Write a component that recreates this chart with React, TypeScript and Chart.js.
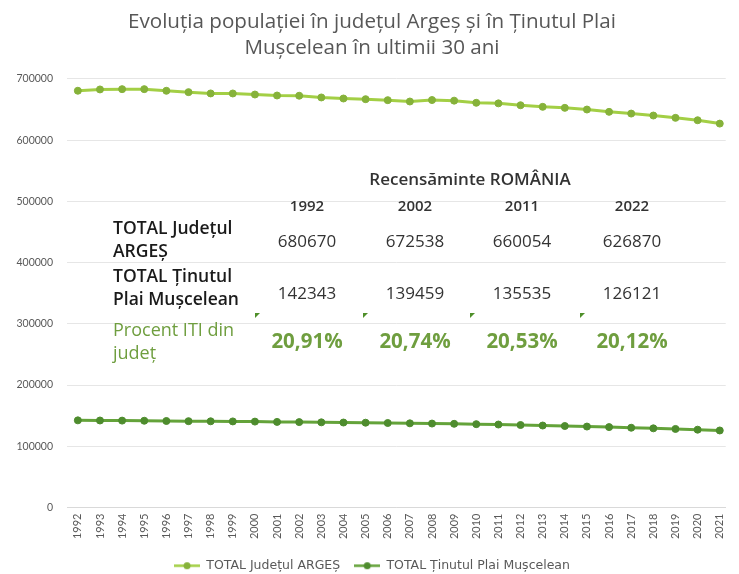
import React, { useEffect, useRef } from "react";
import { Chart, registerables } from "chart.js";

Chart.register(...registerables);

const years = [
  1992, 1993, 1994, 1995, 1996, 1997, 1998, 1999, 2000, 2001,
  2002, 2003, 2004, 2005, 2006, 2007, 2008, 2009, 2010, 2011,
  2012, 2013, 2014, 2015, 2016, 2017, 2018, 2019, 2020, 2021,
];

const argesValues = [
  680670, 682800, 683300, 683300, 680600, 678400, 676300, 676200, 674500, 672900,
  672538, 669700, 668000, 666900, 665300, 663100, 665500, 664500, 661000, 660054,
  657000, 654400, 652700, 650000, 646200, 643400, 640200, 636400, 632500, 627000,
];

const plaiValues = [
  142343, 142100, 141900, 141700, 141300, 141000, 140800, 140600, 140300, 139800,
  139459, 139100, 138800, 138500, 138000, 137500, 137100, 136700, 136100, 135535,
  134700, 133900, 133100, 132200, 131300, 130300, 129300, 128300, 127100, 125800,
];

const seriesNames = ["TOTAL Județul ARGEȘ", "TOTAL Ținutul Plai Mușcelean"];
const titleLines = [
  "Evoluția populației în județul Argeș și în Ținutul Plai",
  "Mușcelean în ultimii 30 ani",
];

const yMin = 0;
const yMax = 700000;
const yStep = 100000;

const tableHeading = "Recensăminte ROMÂNIA";
const censusYears = ["1992", "2002", "2011", "2022"];
const censusArges = ["680670", "672538", "660054", "626870"];
const censusPlai = ["142343", "139459", "135535", "126121"];
const censusPercent = ["20,91%", "20,74%", "20,53%", "20,12%"];
const rowLabels = [
  ["TOTAL Județul", "ARGEȘ"],
  ["TOTAL Ținutul", "Plai Mușcelean"],
  ["Procent ITI din", "județ"],
];

const ARGES_LINE = "#a3cf45";
const ARGES_POINT = "#86b23a";
const PLAI_LINE = "#64a33a";
const PLAI_POINT = "#4e8c2e";
const GREEN_TEXT = "#6f9e3f";

function legendImage(line: string, point: string): HTMLCanvasElement {
  const c = document.createElement("canvas");
  c.width = 26;
  c.height = 9;
  const ctx = c.getContext("2d")!;
  ctx.strokeStyle = line;
  ctx.lineWidth = 2.5;
  ctx.beginPath();
  ctx.moveTo(0, 4.5);
  ctx.lineTo(26, 4.5);
  ctx.stroke();
  ctx.fillStyle = point;
  ctx.beginPath();
  ctx.arc(13, 4.5, 3.5, 0, Math.PI * 2);
  ctx.fill();
  return c;
}

const colCenters = [307, 415, 522, 632];
const FONT = "'Open Sans'";

export default function App() {
  const canvasRef = useRef<HTMLCanvasElement | null>(null);

  useEffect(() => {
    document.body.style.margin = "0";
    const canvas = canvasRef.current;
    if (!canvas) return;
    const imgs = [legendImage(ARGES_LINE, ARGES_POINT), legendImage(PLAI_LINE, PLAI_POINT)];
    const chart = new Chart(canvas, {
      type: "line",
      data: {
        datasets: [
          {
            label: seriesNames[0],
            data: years.map((x, i) => ({ x, y: argesValues[i] })),
            borderColor: ARGES_LINE,
            backgroundColor: ARGES_POINT,
            pointBackgroundColor: ARGES_POINT,
            pointBorderColor: ARGES_POINT,
            borderWidth: 3,
            pointRadius: 3.5,
            pointBorderWidth: 1,
            tension: 0,
          },
          {
            label: seriesNames[1],
            data: years.map((x, i) => ({ x, y: plaiValues[i] })),
            borderColor: PLAI_LINE,
            backgroundColor: PLAI_POINT,
            pointBackgroundColor: PLAI_POINT,
            pointBorderColor: PLAI_POINT,
            borderWidth: 3,
            pointRadius: 3.5,
            pointBorderWidth: 1,
            tension: 0,
          },
        ],
      },
      options: {
        responsive: false,
        animation: false,
        layout: { padding: { left: 7, right: 2, top: 0, bottom: -8 } },
        plugins: {
          tooltip: { enabled: false },
          title: {
            display: true,
            text: titleLines,
            color: "#575757",
            font: { family: FONT, size: 20.6, weight: "normal", lineHeight: 1.26 },
            padding: { top: 9, bottom: 18 },
          },
          legend: {
            position: "bottom",
            labels: {
              color: "#595959",
              font: { family: "'DejaVu Sans'", size: 12.5 },
              usePointStyle: true,
              pointStyleWidth: 26,
              boxHeight: 9,
              padding: 14,
              generateLabels: (ch: any) => {
                const items = Chart.defaults.plugins.legend.labels.generateLabels(ch);
                return items.map((it: any, i: number) => ({ ...it, pointStyle: imgs[i] }));
              },
            },
          },
        },
        scales: {
          x: {
            type: "linear",
            min: 1991.51,
            max: 2021.27,
            afterBuildTicks: (s: any) => {
              s.ticks = years.map((v) => ({ value: v }));
            },
            afterFit: (s: any) => {
              s.height = 38;
            },
            grid: { display: false, drawTicks: false },
            border: { display: true, color: "#d9d9d9" },
            ticks: {
              autoSkip: false,
              minRotation: 90,
              maxRotation: 90,
              padding: 6,
              color: "#595959",
              font: { family: "Lato", size: 11 },
              callback: (v: any) => String(v),
            },
          },
          y: {
            min: yMin,
            max: yMax,
            afterFit: (s: any) => {
              s.width = 60;
            },
            grid: { color: "#e6e6e6", drawTicks: false },
            border: { display: false },
            ticks: {
              stepSize: yStep,
              padding: 14,
              color: "#595959",
              font: { family: "Lato", size: 10.5 },
              callback: (v: any) => String(v),
            },
          },
        },
      },
    });
    return () => chart.destroy();
  }, []);

  const center = (x: number, y: number): React.CSSProperties => ({
    position: "absolute",
    left: x,
    top: y,
    transform: "translate(-50%, -50%)",
    whiteSpace: "nowrap",
    lineHeight: 1,
  });
  const leftAt = (x: number, y: number): React.CSSProperties => ({
    position: "absolute",
    left: x,
    top: y,
    transform: "translate(0, -50%)",
    whiteSpace: "nowrap",
    lineHeight: 1,
  });

  const labelFont: React.CSSProperties = { fontFamily: FONT, fontSize: 17.5, fontWeight: 600, color: "#1a1a1a" };
  const greenLabel: React.CSSProperties = { fontFamily: FONT, fontSize: 18, fontWeight: 400, color: GREEN_TEXT };
  const valueFont: React.CSSProperties = { fontFamily: FONT, fontSize: 17, color: "#333" };

  return (
    <div style={{ position: "relative", width: 739, height: 574, overflow: "hidden", background: "#fff" }}>
      <canvas ref={canvasRef} width={739} height={574} style={{ display: "block" }} />
      <div style={{ ...center(470, 178), fontFamily: FONT, fontSize: 17, fontWeight: 600, color: "#333" }}>
        {tableHeading}
      </div>
      {censusYears.map((t, i) => (
        <div key={"y" + i} style={{ ...center(colCenters[i], 205), fontFamily: FONT, fontSize: 15, fontWeight: 600, color: "#333" }}>
          {t}
        </div>
      ))}
      <div style={{ ...leftAt(113, 228), ...labelFont }}>{rowLabels[0][0]}</div>
      <div style={{ ...leftAt(113, 251), ...labelFont }}>{rowLabels[0][1]}</div>
      <div style={{ ...leftAt(113, 276), ...labelFont }}>{rowLabels[1][0]}</div>
      <div style={{ ...leftAt(113, 299), ...labelFont }}>{rowLabels[1][1]}</div>
      <div style={{ ...leftAt(113, 329), ...greenLabel }}>{rowLabels[2][0]}</div>
      <div style={{ ...leftAt(113, 352), ...greenLabel }}>{rowLabels[2][1]}</div>
      {censusArges.map((t, i) => (
        <div key={"a" + i} style={{ ...center(colCenters[i], 240), ...valueFont }}>{t}</div>
      ))}
      {censusPlai.map((t, i) => (
        <div key={"p" + i} style={{ ...center(colCenters[i], 292), ...valueFont }}>{t}</div>
      ))}
      {censusPercent.map((t, i) => (
        <div
          key={"c" + i}
          style={{ ...center(colCenters[i], 340), fontFamily: FONT, fontSize: 20.5, fontWeight: 700, color: GREEN_TEXT }}
        >
          {t}
        </div>
      ))}
      {colCenters.map((x, i) => (
        <div
          key={"m" + i}
          style={{
            position: "absolute",
            left: x - 52,
            top: 313,
            width: 0,
            height: 0,
            borderTop: "5px solid #4f8f2a",
            borderRight: "5px solid transparent",
          }}
        />
      ))}
    </div>
  );
}
